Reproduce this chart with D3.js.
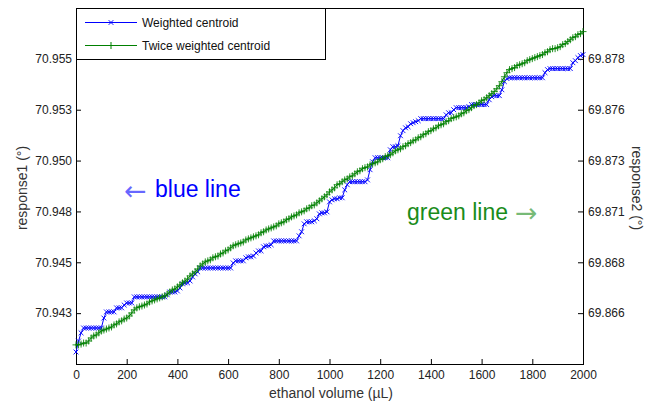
<!DOCTYPE html>
<html>
<head>
<meta charset="utf-8">
<script src="https://cdn.jsdelivr.net/npm/d3@7"></script>
<style>
  html, body { margin: 0; padding: 0; background: #fff; }
  svg { display: block; }
  text { font-family: "Liberation Sans", Arial, sans-serif; }
</style>
</head>
<body>
<svg id="chart" width="654" height="406"></svg>
<script>
// Ethanol volume (µL), one reading every 10 µL
const volumes = d3.range(0, 2001, 10);

// response1 (°) – weighted centroid
const weightedCentroid = [
  70.94059, 70.94113, 70.94153, 70.94177, 70.94177, 70.94177, 70.94177, 70.94177, 70.94177, 70.94177,
  70.94177, 70.94226, 70.94256, 70.94256, 70.94256, 70.94256, 70.94276, 70.94276, 70.94276, 70.94290,
  70.94300, 70.94300, 70.94300, 70.94330, 70.94330, 70.94330, 70.94330, 70.94330, 70.94330, 70.94330,
  70.94330, 70.94330, 70.94330, 70.94330, 70.94330, 70.94330, 70.94340, 70.94354, 70.94354, 70.94354,
  70.94359, 70.94374, 70.94394, 70.94399, 70.94399, 70.94408, 70.94428, 70.94443, 70.94453, 70.94472,
  70.94472, 70.94472, 70.94472, 70.94472, 70.94472, 70.94472, 70.94472, 70.94472, 70.94472, 70.94472,
  70.94472, 70.94472, 70.94497, 70.94507, 70.94507, 70.94507, 70.94507, 70.94522, 70.94527, 70.94527,
  70.94531, 70.94546, 70.94556, 70.94556, 70.94576, 70.94581, 70.94581, 70.94586, 70.94605, 70.94605,
  70.94605, 70.94605, 70.94605, 70.94605, 70.94605, 70.94605, 70.94605, 70.94605, 70.94630, 70.94650,
  70.94689, 70.94699, 70.94699, 70.94699, 70.94704, 70.94714, 70.94738, 70.94743, 70.94743, 70.94748,
  70.94797, 70.94807, 70.94812, 70.94812, 70.94817, 70.94817, 70.94856, 70.94881, 70.94896, 70.94896,
  70.94896, 70.94896, 70.94896, 70.94896, 70.94896, 70.94905, 70.94955, 70.94994, 70.95014, 70.95014,
  70.95014, 70.95014, 70.95014, 70.95014, 70.95053, 70.95068, 70.95068, 70.95073, 70.95122, 70.95147,
  70.95161, 70.95166, 70.95181, 70.95186, 70.95191, 70.95196, 70.95206, 70.95206, 70.95206, 70.95206,
  70.95206, 70.95206, 70.95206, 70.95206, 70.95206, 70.95206, 70.95225, 70.95235, 70.95235, 70.95250,
  70.95260, 70.95260, 70.95260, 70.95260, 70.95260, 70.95265, 70.95275, 70.95275, 70.95275, 70.95275,
  70.95275, 70.95275, 70.95275, 70.95299, 70.95314, 70.95319, 70.95319, 70.95319, 70.95348, 70.95388,
  70.95403, 70.95407, 70.95407, 70.95407, 70.95407, 70.95407, 70.95407, 70.95407, 70.95407, 70.95407,
  70.95407, 70.95407, 70.95407, 70.95407, 70.95407, 70.95432, 70.95447, 70.95452, 70.95452, 70.95452,
  70.95452, 70.95452, 70.95452, 70.95452, 70.95452, 70.95452, 70.95481, 70.95491, 70.95506, 70.95516,
  70.95521
];

// response2 (°) – twice weighted centroid
const twiceWeightedCentroid = [
  69.86394, 69.86394, 69.86398, 69.86403, 69.86403, 69.86413, 69.86428, 69.86438, 69.86443, 69.86453,
  69.86462, 69.86467, 69.86472, 69.86477, 69.86482, 69.86492, 69.86497, 69.86507, 69.86512, 69.86521,
  69.86526, 69.86536, 69.86551, 69.86566, 69.86576, 69.86581, 69.86585, 69.86590, 69.86595, 69.86605,
  69.86610, 69.86615, 69.86620, 69.86625, 69.86630, 69.86635, 69.86644, 69.86654, 69.86664, 69.86669,
  69.86679, 69.86689, 69.86699, 69.86708, 69.86718, 69.86733, 69.86743, 69.86753, 69.86767, 69.86782,
  69.86792, 69.86802, 69.86807, 69.86812, 69.86822, 69.86827, 69.86831, 69.86841, 69.86846, 69.86856,
  69.86861, 69.86871, 69.86881, 69.86886, 69.86891, 69.86895, 69.86900, 69.86910, 69.86915, 69.86920,
  69.86925, 69.86930, 69.86935, 69.86945, 69.86950, 69.86959, 69.86964, 69.86969, 69.86974, 69.86979,
  69.86989, 69.86994, 69.86999, 69.87009, 69.87014, 69.87023, 69.87028, 69.87033, 69.87043, 69.87048,
  69.87053, 69.87063, 69.87068, 69.87078, 69.87082, 69.87092, 69.87102, 69.87112, 69.87122, 69.87132,
  69.87146, 69.87156, 69.87166, 69.87181, 69.87186, 69.87196, 69.87205, 69.87210, 69.87220, 69.87225,
  69.87235, 69.87245, 69.87250, 69.87260, 69.87265, 69.87269, 69.87279, 69.87284, 69.87289, 69.87294,
  69.87304, 69.87309, 69.87319, 69.87324, 69.87329, 69.87338, 69.87348, 69.87353, 69.87358, 69.87368,
  69.87373, 69.87383, 69.87388, 69.87397, 69.87402, 69.87412, 69.87417, 69.87427, 69.87432, 69.87442,
  69.87447, 69.87456, 69.87461, 69.87471, 69.87476, 69.87481, 69.87491, 69.87496, 69.87506, 69.87511,
  69.87515, 69.87520, 69.87530, 69.87535, 69.87545, 69.87550, 69.87560, 69.87570, 69.87575, 69.87584,
  69.87594, 69.87599, 69.87609, 69.87619, 69.87629, 69.87639, 69.87653, 69.87668, 69.87688, 69.87712,
  69.87732, 69.87747, 69.87752, 69.87757, 69.87767, 69.87771, 69.87776, 69.87781, 69.87791, 69.87796,
  69.87801, 69.87806, 69.87811, 69.87816, 69.87821, 69.87830, 69.87835, 69.87845, 69.87850, 69.87850,
  69.87855, 69.87860, 69.87870, 69.87875, 69.87885, 69.87894, 69.87904, 69.87909, 69.87919, 69.87924,
  69.87934
];

// Axis ticks
const xTicks = [0, 200, 400, 600, 800, 1000, 1200, 1400, 1600, 1800, 2000];
const leftTicks = [70.9425, 70.945, 70.9475, 70.95, 70.9525, 70.955];
const leftTickLabels = ["70.943", "70.945", "70.948", "70.950", "70.953", "70.955"];
const rightTicks = [69.8655, 69.868, 69.8705, 69.873, 69.8755, 69.878];
const rightTickLabels = ["69.866", "69.868", "69.871", "69.873", "69.876", "69.878"];

const seriesNames = ["Weighted centroid", "Twice weighted centroid"];

const BLUE = "#0000ff";
const GREEN = "#008000";

const svg = d3.select("#chart");
const plot = { left: 76, right: 583, top: 8, bottom: 364 };

const x = d3.scaleLinear().domain([0, 2000]).range([plot.left, plot.right]);
const yLeft = d3.scaleLinear().domain([70.94, 70.9575]).range([plot.bottom, plot.top]);
const yRight = d3.scaleLinear().domain([69.863, 69.8805]).range([plot.bottom, plot.top]);

const blueData = volumes.map((v, i) => ({ v, r: weightedCentroid[i] }));
const greenData = volumes.map((v, i) => ({ v, r: twiceWeightedCentroid[i] }));

// Plot background
svg.append("rect")
  .attr("x", plot.left).attr("y", plot.top)
  .attr("width", plot.right - plot.left).attr("height", plot.bottom - plot.top)
  .attr("fill", "#fff");

const tickSize = 5;

// Bottom axis (ticks point inward)
const xAxis = svg.append("g")
  .attr("transform", `translate(0,${plot.bottom})`)
  .call(d3.axisBottom(x).tickValues(xTicks).tickSize(-tickSize).tickPadding(6).tickFormat(d3.format("d")));

// Left axis
const yAxisL = svg.append("g")
  .attr("transform", `translate(${plot.left},0)`)
  .call(d3.axisLeft(yLeft).tickValues(leftTicks).tickSize(-tickSize).tickPadding(4)
    .tickFormat((d, i) => leftTickLabels[i]));

// Right axis
const yAxisR = svg.append("g")
  .attr("transform", `translate(${plot.right},0)`)
  .call(d3.axisRight(yRight).tickValues(rightTicks).tickSize(-tickSize).tickPadding(5)
    .tickFormat((d, i) => rightTickLabels[i]));

[xAxis, yAxisL, yAxisR].forEach(g => {
  g.select(".domain").remove();
  g.selectAll(".tick line").attr("stroke", "#000").attr("stroke-width", 1);
  g.selectAll(".tick text")
    .attr("fill", "#222")
    .style("font-family", "'Liberation Sans', Arial, sans-serif")
    .style("font-size", "12px");
});

// Frame
svg.append("rect")
  .attr("x", plot.left + 0.5).attr("y", plot.top + 0.5)
  .attr("width", plot.right - plot.left).attr("height", plot.bottom - plot.top)
  .attr("fill", "none").attr("stroke", "#000").attr("stroke-width", 1);

// Series lines
const lineBlue = d3.line().x(d => x(d.v)).y(d => yLeft(d.r));
const lineGreen = d3.line().x(d => x(d.v)).y(d => yRight(d.r));

const gData = svg.append("g");

function crossPath(cx, cy, s) {
  return `M${cx - s},${cy - s}L${cx + s},${cy + s}M${cx - s},${cy + s}L${cx + s},${cy - s}`;
}
function plusPath(cx, cy, s) {
  return `M${cx - s},${cy}L${cx + s},${cy}M${cx},${cy - s}L${cx},${cy + s}`;
}

gData.append("path").datum(blueData)
  .attr("d", lineBlue).attr("fill", "none").attr("stroke", BLUE).attr("stroke-width", 1);
gData.append("path")
  .attr("d", blueData.map(d => crossPath(x(d.v), yLeft(d.r), 2.4)).join(""))
  .attr("fill", "none").attr("stroke", BLUE).attr("stroke-width", 1).attr("opacity", 0.9);

gData.append("path").datum(greenData)
  .attr("d", lineGreen).attr("fill", "none").attr("stroke", GREEN).attr("stroke-width", 1);
gData.append("path")
  .attr("d", greenData.map(d => plusPath(x(d.v), yRight(d.r), 3.5)).join(""))
  .attr("fill", "none").attr("stroke", GREEN).attr("stroke-width", 1).attr("opacity", 0.85);

// Legend
const legend = svg.append("g");
legend.append("rect")
  .attr("x", plot.left + 0.5).attr("y", plot.top + 0.5)
  .attr("width", 249).attr("height", 51)
  .attr("fill", "#fff").attr("stroke", "#000").attr("stroke-width", 1);

const legendRows = [
  { name: seriesNames[0], color: BLUE, marker: crossPath, size: 2.3, y: 22.5 },
  { name: seriesNames[1], color: GREEN, marker: plusPath, size: 3.5, y: 45.5 }
];
legendRows.forEach(r => {
  legend.append("line")
    .attr("x1", 85).attr("x2", 137).attr("y1", r.y).attr("y2", r.y)
    .attr("stroke", r.color).attr("stroke-width", 1);
  legend.append("path")
    .attr("d", r.marker(111, r.y, r.size))
    .attr("stroke", r.color).attr("stroke-width", 1).attr("fill", "none");
  legend.append("text")
    .attr("x", 142).attr("y", r.y + 4.5)
    .attr("font-size", 12).attr("fill", "#111")
    .text(r.name);
});

// Axis titles
svg.append("text")
  .attr("x", 331).attr("y", 398)
  .attr("text-anchor", "middle").attr("font-size", 14).attr("fill", "#333")
  .text("ethanol volume  (µL)");

svg.append("text")
  .attr("transform", "translate(27,188) rotate(-90)")
  .attr("text-anchor", "middle").attr("font-size", 14).attr("fill", "#333")
  .text("response1  (°)");

svg.append("text")
  .attr("transform", "translate(632,188) rotate(90)")
  .attr("text-anchor", "middle").attr("font-size", 14).attr("fill", "#333")
  .text("response2  (°)");

// Annotations
const noteBlue = svg.append("text")
  .attr("x", 124).attr("y", 197)
  .attr("font-size", 23).attr("fill", BLUE);
noteBlue.append("tspan")
  .style("font-family", "'DejaVu Sans', sans-serif").attr("font-size", 27)
  .attr("dy", 3).attr("fill-opacity", 0.6).text("←");
noteBlue.append("tspan").attr("x", 155).attr("dy", -3).text("blue line");

const noteGreen = svg.append("text")
  .attr("x", 407).attr("y", 220)
  .attr("font-size", 23).attr("fill", "#1a8c1a");
noteGreen.append("tspan").text("green line");
noteGreen.append("tspan")
  .attr("x", 515).attr("dy", 2)
  .style("font-family", "'DejaVu Sans', sans-serif").attr("font-size", 27)
  .attr("fill-opacity", 0.6).text("→");
</script>
</body>
</html>
